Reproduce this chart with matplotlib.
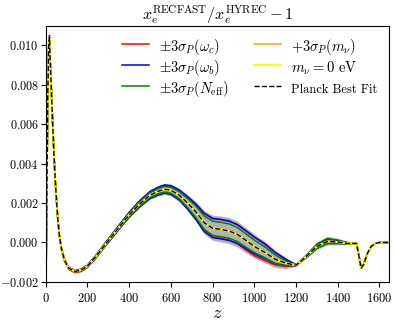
import numpy as np
import matplotlib
matplotlib.use("Agg")
import matplotlib.pyplot as plt

plt.rcParams["font.family"] = "serif"
plt.rcParams["font.serif"] = ["cmr10"]
plt.rcParams["mathtext.fontset"] = "cm"
plt.rcParams["axes.formatter.use_mathtext"] = True

# redshift grid the curves were read on
z = np.array([0, 5, 10, 15, 18, 22, 28, 34, 40, 46, 52, 58, 65, 75, 90, 110,
              140, 170, 200, 240, 280, 320, 360, 400, 450, 500, 540, 570, 600,
              640, 680, 720, 760, 800, 840, 880, 920, 960, 1000, 1050, 1100,
              1150, 1200, 1250, 1300, 1350, 1400, 1450, 1490, 1500, 1512, 1525,
              1540, 1560, 1580, 1600, 1625, 1645])

# Planck best fit
best_fit = np.array([-0.0040, 0.0020, 0.0075, 0.0102, 0.0104, 0.0091, 0.0075,
                     0.0059, 0.0044, 0.0031, 0.0021, 0.0012, 0.0004, -0.0003,
                     -0.0009, -0.0013, -0.00147, -0.0014, -0.0012, -0.00072,
                     -0.00018, 0.00035, 0.00088, 0.0014, 0.00195, 0.0024,
                     0.0026, 0.0027, 0.00265, 0.0024, 0.0020, 0.00155, 0.0010,
                     0.00072, 0.00066, 0.00058, 0.0004, 0.0001, -0.0002,
                     -0.0005, -0.00085, -0.00105, -0.00115, -0.0007, -0.0002,
                     0.00005, 0.00002, -0.00005, -0.00005, -0.0006, -0.0013,
                     -0.0011, -0.0006, -0.0002, -0.00005, 0.0, 0.0, 0.0])

# deviations from best fit, in units of 1e-4
wc_hi = [0, 0, 0, 0, 0, 0, 0, 0, 0, 0, 0, 0, 0, 0.3, 0.4, 0.5, 0.5, 0.5, 0.5,
         0.5, 0.5, 0.6, 0.7, 0.9, 1.2, 1.5, 1.7, 1.8, 2.0, 2.4, 3.0, 3.8, 4.6,
         4.9, 4.9, 4.9, 4.9, 4.9, 4.8, 4.4, 3.5, 2.0, 0.2, -0.2, -0.4, -0.4,
         -0.3, -0.1, 0, 0, 0, 0, 0, 0, 0, 0, 0, 0]
wc_lo = [0, 0, 0, 0, 0, 0, 0, 0, 0, 0, 0, 0, 0, -0.3, -0.5, -0.6, -0.6, -0.6,
         -0.5, -0.5, -0.5, -0.6, -0.7, -0.9, -1.1, -1.4, -1.6, -1.7, -1.9,
         -2.3, -2.9, -3.6, -4.2, -4.4, -4.5, -4.6, -4.7, -4.8, -4.7, -4.2,
         -2.9, -1.7, -0.2, 0.2, 0.4, 0.4, 0.3, 0.1, 0, 0, 0, 0, 0, 0, 0, 0, 0, 0]
wb_hi = [0, 0, 0, 0, 1.0, 0, 0, 0, 0, 0, 0, 0, 0, 0.1, 0.2, 0.2, 0.2, 0.3, 0.4,
         0.6, 0.8, 1.0, 1.1, 1.3, 1.6, 1.9, 2.1, 2.2, 2.3, 2.6, 3.2, 4.0, 4.8,
         5.0, 5.1, 5.1, 5.0, 4.9, 4.7, 4.2, 3.4, 2.0, 0.2, -0.5, -0.9, -1.0,
         -0.7, -0.2, 0, 0, 0, 0, 0, 0, 0, 0, 0, 0]
wb_lo = [0, 0, 0, 0, 0, 0, 0, 0, 0, 0, 0, 0, 0, -0.1, -0.2, -0.2, -0.2, -0.3,
         -0.4, -0.6, -0.7, -0.9, -1.0, -1.2, -1.5, -1.7, -1.9, -2.0, -2.1,
         -2.4, -3.0, -3.8, -4.5, -4.7, -4.8, -4.8, -4.6, -4.2, -3.8, -3.2,
         -2.2, -1.2, -0.2, 0.5, 0.9, 1.0, 0.7, 0.2, 0, 0, 0, 0, 0, 0, 0, 0, 0, 0]
neff_hi = [0, 0, 0, 0, 0, 0, 0, 0, 0, 0, 0, 0, 0, 0.2, 0.2, 0.2, 0.2, 0.3, 0.3,
           0.4, 0.4, 0.5, 0.6, 0.8, 1.0, 1.2, 1.3, 1.4, 1.5, 1.8, 2.3, 2.9,
           3.4, 3.6, 3.6, 3.6, 3.5, 3.4, 3.2, 2.8, 2.2, 1.2, 0.1, 0.6, 1.2,
           1.5, 1.0, 0.3, 0, 0, 0, 0, 0, 0, 0, 0, 0, 0]
neff_lo = [0, 0, 0, 0, 0, 0, 0, 0, 0, 0, 0, 0, 0, -0.2, -0.2, -0.2, -0.2, -0.3,
           -0.3, -0.4, -0.4, -0.5, -0.6, -0.8, -1.0, -1.2, -1.3, -1.4, -1.5,
           -1.8, -2.3, -2.9, -3.4, -3.6, -3.7, -3.7, -3.6, -3.4, -3.1, -2.7,
           -2.2, -1.3, -0.1, -0.5, -0.9, -1.0, -0.7, -0.2, 0, 0, 0, 0, 0, 0, 0,
           0, 0, 0]
mnu_hi = [0, 0, 0, 0, 0, 0, 0, 0, 0, 0, 0, 0, 0, 0, 0, 0, 0, 0, 0, 0, 0, 0.1,
          0.1, 0.1, 0.1, 0.2, 0.2, 0.2, 0.2, 0.2, 0.2, 0.3, 0.3, 0.3, 0.3, 0.3,
          0.3, 0.3, 0.3, 0.3, 0.2, 0.1, 0, 0.1, 0.1, 0.1, 0.1, 0, 0, 0, 0, 0,
          0, 0, 0, 0, 0, 0]
band_hi = [0, 0, 0, 0, 1.5, 0.8, 0.8, 0.8, 0.8, 0.8, 0.8, 0.8, 0.8, 0.8, 0.8,
           0.8, 0.8, 0.8, 0.8, 1.0, 1.0, 1.0, 1.0, 1.5, 2.0, 2.4, 2.7, 2.9,
           3.1, 3.5, 4.2, 5.2, 6.2, 6.6, 6.8, 6.8, 6.7, 6.5, 6.2, 5.6, 4.6,
           3.0, 0.6, 1.2, 2.2, 2.6, 2.0, 0.6, 0, 0, 0, 0, 0, 0, 0, 0, 0, 0]
band_lo = [0, 0, 0, 0, 0, -0.8, -0.8, -0.8, -0.8, -0.8, -0.8, -0.8, -0.8, -0.8,
           -0.9, -1.0, -1.0, -1.0, -0.9, -1.0, -1.0, -1.0, -1.0, -1.4, -1.8,
           -2.2, -2.5, -2.7, -2.9, -3.3, -4.0, -5.0, -5.8, -6.2, -6.3, -6.4,
           -6.4, -6.3, -5.9, -5.3, -4.2, -2.8, -0.6, -1.0, -1.6, -1.8, -1.4,
           -0.5, 0, 0, 0, 0, 0, 0, 0, 0, 0, 0]

unit = 1e-4

fig = plt.figure(figsize=(3.94, 3.24), dpi=100)
ax = fig.add_axes([0.116, 0.13, 0.871, 0.791])

ax.fill_between(z, best_fit + np.array(band_lo) * unit,
                best_fit + np.array(band_hi) * unit, color="0.7", lw=0)

ax.plot(z, best_fit + np.array(wc_hi) * unit, color="red", lw=1.1,
        label=r"$\pm3\sigma_P(\omega_c)$")
ax.plot(z, best_fit + np.array(wc_lo) * unit, color="red", lw=1.1)
ax.plot(z, best_fit + np.array(wb_hi) * unit, color="blue", lw=1.1,
        label=r"$\pm3\sigma_P(\omega_b)$")
ax.plot(z, best_fit + np.array(wb_lo) * unit, color="blue", lw=1.1)
ax.plot(z, best_fit + np.array(neff_hi) * unit, color="green", lw=1.1,
        label=r"$\pm3\sigma_P(N_{\rm eff})$")
ax.plot(z, best_fit + np.array(neff_lo) * unit, color="green", lw=1.1)
ax.plot(z, best_fit + np.array(mnu_hi) * unit, color="orange", lw=1.1,
        label=r"$+3\sigma_P(m_\nu)$")
ax.plot(z, best_fit, color="yellow", lw=1.5, label=r"$m_\nu=0$ eV")
ax.plot(z, best_fit, color="black", lw=1, ls="--", label="Planck Best Fit")

ax.set_xlim(0, 1645)
ax.set_ylim(-0.002, 0.0110)
ax.set_yticks([-0.002, 0.0, 0.002, 0.004, 0.006, 0.008, 0.010])
ax.tick_params(axis="x", labelsize=9)
ax.tick_params(axis="y", labelsize=8.8, pad=1.5)
ax.set_xlabel(r"$z$", fontsize=13, labelpad=1)
ax.set_title(r"$x_e^{\rm RECFAST}/x_e^{\rm HYREC}-1$", fontsize=11.5, pad=4)
leg = ax.legend(ncol=2, frameon=False, fontsize=9, loc="upper right",
                handlelength=2.2, handleheight=2.2, columnspacing=2.0,
                labelspacing=0.0, bbox_to_anchor=(1.0, 1.0))
for t in leg.get_texts()[:5]:
    t.set_fontsize(10.5)

fig.savefig("out.png", dpi=100)
